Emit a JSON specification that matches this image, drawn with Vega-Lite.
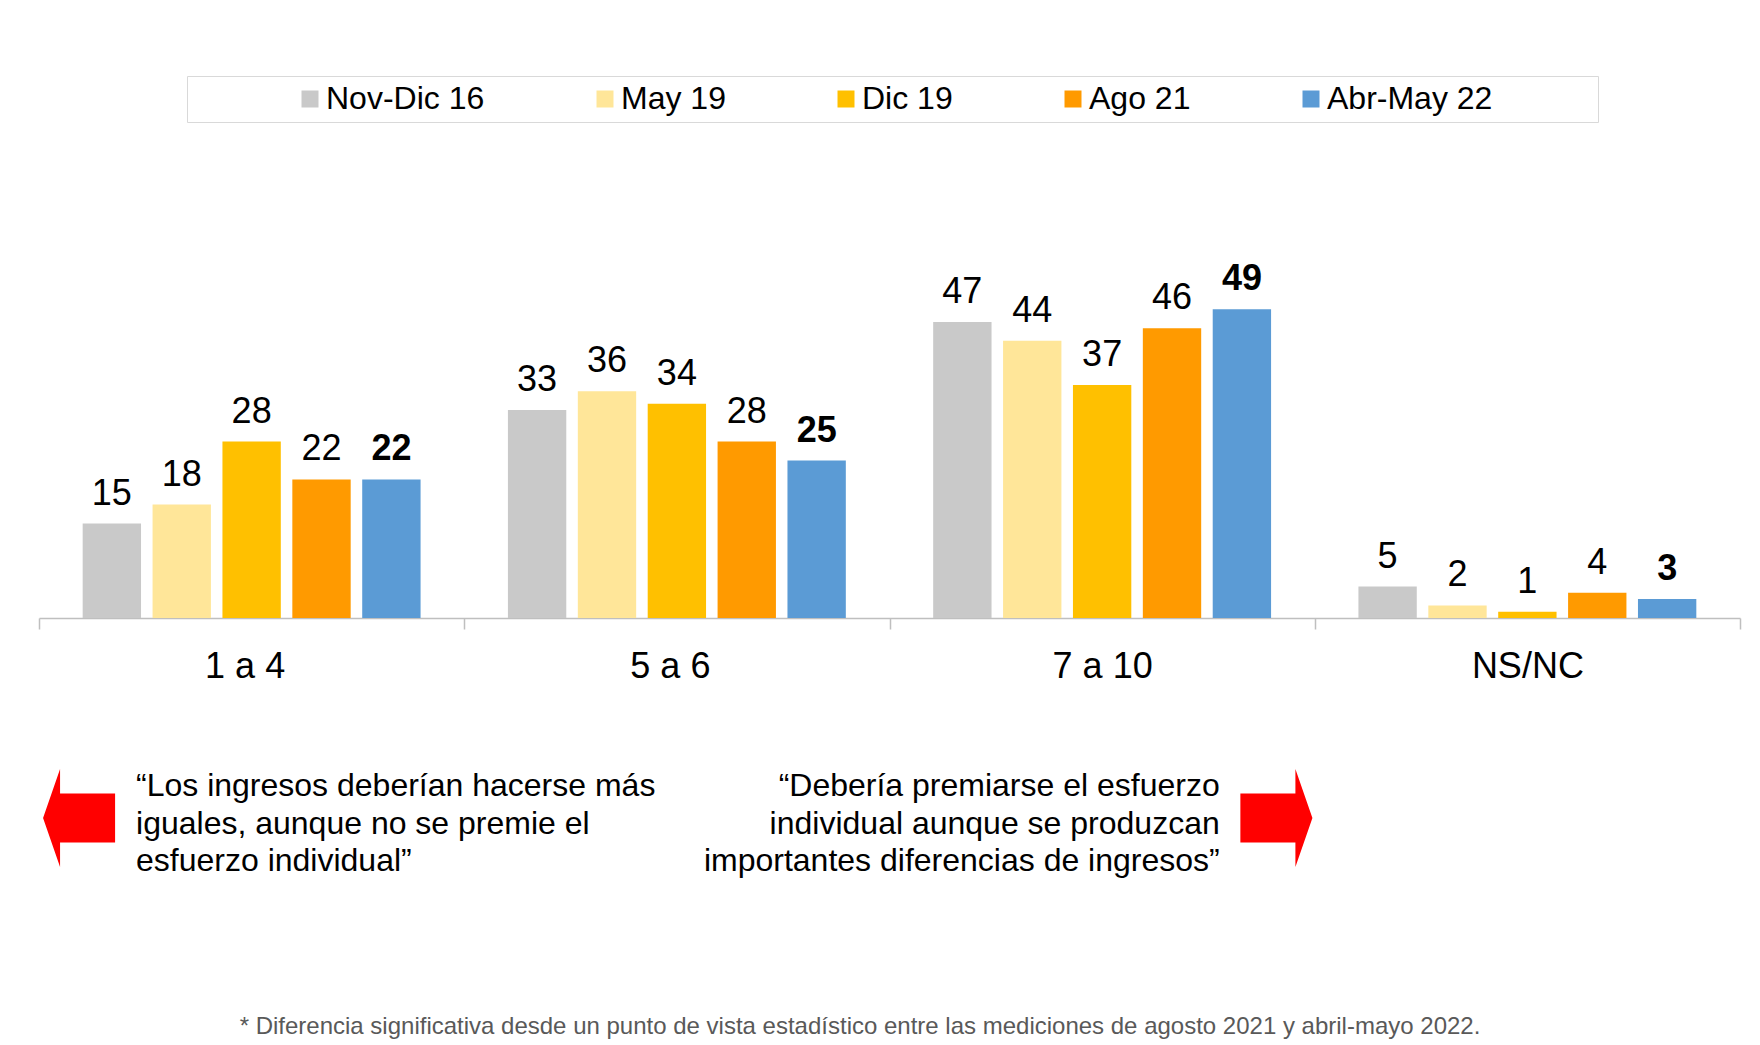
{
  "$schema": "https://vega.github.io/schema/vega-lite/v6.json",
  "autosize": {"type": "none"},
  "width": 1701,
  "height": 378,
  "padding": {"left": 39, "top": 240, "right": 20, "bottom": 427},
  "background": "white",
  "config": {
    "view": {"stroke": null},
    "font": "Liberation Sans",
    "text": {"font": "Liberation Sans"}
  },
  "data": {
    "values": [
      {"Category": "1 a 4", "Series": "Nov-Dic 16", "Value": 15},
      {"Category": "1 a 4", "Series": "May 19", "Value": 18},
      {"Category": "1 a 4", "Series": "Dic 19", "Value": 28},
      {"Category": "1 a 4", "Series": "Ago 21", "Value": 22},
      {"Category": "1 a 4", "Series": "Abr-May 22", "Value": 22},
      {"Category": "5 a 6", "Series": "Nov-Dic 16", "Value": 33},
      {"Category": "5 a 6", "Series": "May 19", "Value": 36},
      {"Category": "5 a 6", "Series": "Dic 19", "Value": 34},
      {"Category": "5 a 6", "Series": "Ago 21", "Value": 28},
      {"Category": "5 a 6", "Series": "Abr-May 22", "Value": 25},
      {"Category": "7 a 10", "Series": "Nov-Dic 16", "Value": 47},
      {"Category": "7 a 10", "Series": "May 19", "Value": 44},
      {"Category": "7 a 10", "Series": "Dic 19", "Value": 37},
      {"Category": "7 a 10", "Series": "Ago 21", "Value": 46},
      {"Category": "7 a 10", "Series": "Abr-May 22", "Value": 49},
      {"Category": "NS/NC", "Series": "Nov-Dic 16", "Value": 5},
      {"Category": "NS/NC", "Series": "May 19", "Value": 2},
      {"Category": "NS/NC", "Series": "Dic 19", "Value": 1},
      {"Category": "NS/NC", "Series": "Ago 21", "Value": 4},
      {"Category": "NS/NC", "Series": "Abr-May 22", "Value": 3}
    ]
  },
  "layer": [
    {
      "mark": {"type": "bar"},
      "encoding": {
        "x": {
          "field": "Category",
          "type": "nominal",
          "sort": ["1 a 4", "5 a 6", "7 a 10", "NS/NC"],
          "scale": {"paddingInner": 0, "paddingOuter": 0},
          "axis": {
            "title": null,
            "grid": false,
            "labelAngle": 0,
            "domainColor": "#bfbfbf",
            "domainWidth": 1.5,
            "tickColor": "#bfbfbf",
            "tickWidth": 1.5,
            "tickSize": 11,
            "tickBand": "extent",
            "labelFont": "Liberation Sans",
            "labelFontSize": 36,
            "labelColor": "#000000",
            "labelBaseline": "alphabetic",
            "labelPadding": 48,
            "labelOffset": {
              "condition": {"test": "datum.value == '1 a 4' || datum.value == '5 a 6'", "value": -7},
              "value": 0
            }
          }
        },
        "y": {
          "field": "Value",
          "type": "quantitative",
          "scale": {"domain": [0, 60], "nice": false, "zero": true},
          "axis": null
        },
        "xOffset": {
          "field": "Series",
          "type": "nominal",
          "sort": ["Nov-Dic 16", "May 19", "Dic 19", "Ago 21", "Abr-May 22"],
          "scale": {"paddingInner": 0.165, "paddingOuter": 0.625}
        },
        "color": {
          "field": "Series",
          "type": "nominal",
          "scale": {
            "domain": ["Nov-Dic 16", "May 19", "Dic 19", "Ago 21", "Abr-May 22"],
            "range": ["#c9c9c9", "#ffe699", "#ffc000", "#ff9a00", "#5b9bd5"]
          },
          "legend": {
            "title": " ",
            "titleOrient": "left",
            "titleFontSize": 1,
            "titlePadding": 100,
            "orient": "none",
            "legendX": 148,
            "legendY": -164,
            "direction": "horizontal",
            "strokeColor": "#d9d9d9",
            "padding": 7,
            "symbolType": "square",
            "symbolSize": 289,
            "symbolStrokeWidth": 0,
            "labelFont": "Liberation Sans",
            "labelFontSize": 32,
            "labelColor": "#000000",
            "labelOffset": 0,
            "labelLimit": 600,
            "columnPadding": 104,
            "labelExpr": "datum.label == 'Abr-May 22' ? datum.label + '\u00a0\u00a0\u00a0\u00a0\u00a0\u00a0\u00a0\u00a0\u00a0\u00a0\u00a0\u200b' : datum.label"
          }
        }
      }
    },
    {
      "transform": [{"filter": "datum.Series != 'Abr-May 22'"}],
      "mark": {
        "type": "text",
        "baseline": "alphabetic",
        "align": "center",
        "dy": -19,
        "fontSize": 36,
        "font": "Liberation Sans",
        "color": "#000000"
      },
      "encoding": {
        "x": {"field": "Category", "type": "nominal", "sort": ["1 a 4", "5 a 6", "7 a 10", "NS/NC"]},
        "y": {"field": "Value", "type": "quantitative"},
        "xOffset": {
          "field": "Series",
          "type": "nominal",
          "sort": ["Nov-Dic 16", "May 19", "Dic 19", "Ago 21", "Abr-May 22"]
        },
        "text": {"field": "Value", "type": "quantitative"}
      }
    },
    {
      "transform": [{"filter": "datum.Series == 'Abr-May 22'"}],
      "mark": {
        "type": "text",
        "baseline": "alphabetic",
        "align": "center",
        "dy": -19,
        "fontSize": 36,
        "fontWeight": "bold",
        "font": "Liberation Sans",
        "color": "#000000"
      },
      "encoding": {
        "x": {"field": "Category", "type": "nominal", "sort": ["1 a 4", "5 a 6", "7 a 10", "NS/NC"]},
        "y": {"field": "Value", "type": "quantitative"},
        "xOffset": {
          "field": "Series",
          "type": "nominal",
          "sort": ["Nov-Dic 16", "May 19", "Dic 19", "Ago 21", "Abr-May 22"]
        },
        "text": {"field": "Value", "type": "quantitative"}
      }
    },
    {
      "data": {"values": [{}]},
      "mark": {
        "type": "text",
        "text": ["“Los ingresos deberían hacerse más", "iguales, aunque no se premie el", "esfuerzo individual”"],
        "align": "left",
        "baseline": "alphabetic",
        "lineHeight": 37.5,
        "fontSize": 32,
        "font": "Liberation Sans",
        "color": "#000000",
        "dx": -115.6
      },
      "encoding": {
        "x": {"datum": "1 a 4", "type": "nominal"},
        "y": {"datum": -28.32, "type": "quantitative"}
      }
    },
    {
      "data": {"values": [{}]},
      "mark": {
        "type": "text",
        "text": ["“Debería premiarse el esfuerzo", "individual aunque se produzcan", "importantes diferencias de ingresos”"],
        "align": "right",
        "baseline": "alphabetic",
        "lineHeight": 37.5,
        "fontSize": 32,
        "font": "Liberation Sans",
        "color": "#000000",
        "dx": 117.6
      },
      "encoding": {
        "x": {"datum": "7 a 10", "type": "nominal"},
        "y": {"datum": -28.32, "type": "quantitative"}
      }
    },
    {
      "data": {"values": [{}]},
      "mark": {
        "type": "text",
        "text": "* Diferencia significativa desde un punto de vista estadístico entre las mediciones de agosto 2021 y abril-mayo 2022.",
        "align": "left",
        "baseline": "alphabetic",
        "fontSize": 24,
        "font": "Liberation Sans",
        "color": "#595959",
        "dx": -12
      },
      "encoding": {
        "x": {"datum": "1 a 4", "type": "nominal"},
        "y": {"datum": -66.1, "type": "quantitative"}
      }
    },
    {
      "data": {"values": [{}]},
      "mark": {
        "type": "point",
        "shape": "M -1.404 0 L -1.057 -1 L -1.057 -0.5 L 0.066 -0.5 L 0.066 0.5 L -1.057 0.5 L -1.057 1 Z",
        "filled": true,
        "size": 9604,
        "color": "#ff0000",
        "opacity": 1,
        "strokeWidth": 0
      },
      "encoding": {
        "x": {"datum": "1 a 4", "type": "nominal"},
        "xOffset": {"datum": "Nov-Dic 16", "type": "nominal"},
        "y": {"datum": -31.75, "type": "quantitative"}
      }
    },
    {
      "data": {"values": [{}]},
      "mark": {
        "type": "point",
        "shape": "M 1.439 0 L 1.092 -1 L 1.092 -0.5 L -0.031 -0.5 L -0.031 0.5 L 1.092 0.5 L 1.092 1 Z",
        "filled": true,
        "size": 9604,
        "color": "#ff0000",
        "opacity": 1,
        "strokeWidth": 0
      },
      "encoding": {
        "x": {"datum": "7 a 10", "type": "nominal"},
        "xOffset": {"datum": "Abr-May 22", "type": "nominal"},
        "y": {"datum": -31.75, "type": "quantitative"}
      }
    }
  ]
}
